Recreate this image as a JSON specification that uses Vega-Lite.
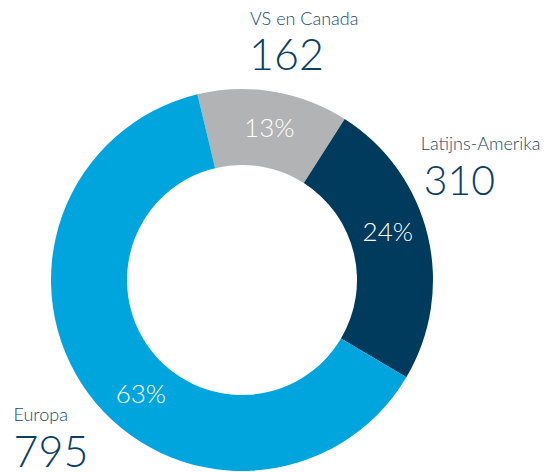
{
  "$schema": "https://vega.github.io/schema/vega-lite/v6.json",
  "width": 484,
  "height": 384,
  "autosize": {"type": "none"},
  "padding": {"left": 0, "top": 88, "right": 63, "bottom": 0},
  "background": "white",
  "config": {"view": {"stroke": null}},
  "data": {"values": [
    {"region": "VS en Canada", "value": 162, "pct": "13%"},
    {"region": "Latijns-Amerika", "value": 310, "pct": "24%"},
    {"region": "Europa", "value": 795, "pct": "63%"}
  ]},
  "encoding": {
    "theta": {"field": "value", "type": "quantitative", "stack": true, "scale": {"range": [-0.2356, 6.0476]}},
    "order": {"field": "value", "type": "quantitative", "sort": "ascending"},
    "detail": {"field": "region", "type": "nominal"}
  },
  "layer": [
    {
      "mark": {"type": "arc", "outerRadius": 191, "innerRadius": 115},
      "encoding": {
        "color": {"field": "region", "type": "nominal", "legend": null,
          "scale": {"domain": ["VS en Canada", "Latijns-Amerika", "Europa"], "range": ["#B1B3B4", "#003A5C", "#00A5DD"]}}
      }
    },
    {
      "mark": {"type": "text", "radius": 153, "dx": 2, "dy": 8, "align": "center", "baseline": "alphabetic", "fontSize": 26, "font": "Lato", "fontWeight": 300, "color": "white"},
      "encoding": {"text": {"condition": {"test": "datum.region === 'VS en Canada'", "field": "pct", "type": "nominal"}, "value": ""}}
    },
    {
      "mark": {"type": "text", "radius": 153, "dx": -3, "dy": -3, "align": "center", "baseline": "alphabetic", "fontSize": 26, "font": "Lato", "fontWeight": 300, "color": "white"},
      "encoding": {"text": {"condition": {"test": "datum.region === 'Latijns-Amerika'", "field": "pct", "type": "nominal"}, "value": ""}}
    },
    {
      "mark": {"type": "text", "radius": 153, "dx": 22, "dy": 32, "align": "center", "baseline": "alphabetic", "fontSize": 26, "font": "Lato", "fontWeight": 300, "color": "white"},
      "encoding": {"text": {"condition": {"test": "datum.region === 'Europa'", "field": "pct", "type": "nominal"}, "value": ""}}
    },
    {
      "mark": {"type": "text", "radius": 212, "dx": -27, "dy": -46, "align": "left", "baseline": "alphabetic", "fontSize": 18, "font": "Lato", "fontWeight": 300, "color": "#164A6E"},
      "encoding": {"text": {"condition": {"test": "datum.region === 'VS en Canada'", "field": "region", "type": "nominal"}, "value": ""}}
    },
    {
      "mark": {"type": "text", "radius": 212, "dx": -28, "dy": -1, "align": "left", "baseline": "alphabetic", "fontSize": 43, "font": "Lato", "fontWeight": 300, "color": "#0E3F63"},
      "encoding": {"text": {"condition": {"test": "datum.region === 'VS en Canada'", "field": "value", "type": "quantitative"}, "value": ""}}
    },
    {
      "mark": {"type": "text", "radius": 190, "dx": -6, "dy": -86, "align": "left", "baseline": "alphabetic", "fontSize": 18, "font": "Lato", "fontWeight": 300, "color": "#164A6E"},
      "encoding": {"text": {"condition": {"test": "datum.region === 'Latijns-Amerika'", "field": "region", "type": "nominal"}, "value": ""}}
    },
    {
      "mark": {"type": "text", "radius": 190, "dx": -3, "dy": -41, "align": "left", "baseline": "alphabetic", "fontSize": 41, "font": "Lato", "fontWeight": 300, "color": "#0E3F63"},
      "encoding": {"text": {"condition": {"test": "datum.region === 'Latijns-Amerika'", "field": "value", "type": "quantitative"}, "value": ""}}
    },
    {
      "mark": {"type": "text", "radius": 284, "dx": 0, "dy": -28, "align": "left", "baseline": "alphabetic", "fontSize": 18, "font": "Lato", "fontWeight": 300, "color": "#164A6E"},
      "encoding": {"text": {"condition": {"test": "datum.region === 'Europa'", "field": "region", "type": "nominal"}, "value": ""}}
    },
    {
      "mark": {"type": "text", "radius": 284, "dx": 0, "dy": 18, "align": "left", "baseline": "alphabetic", "fontSize": 43, "font": "Lato", "fontWeight": 300, "color": "#0E3F63"},
      "encoding": {"text": {"condition": {"test": "datum.region === 'Europa'", "field": "value", "type": "quantitative"}, "value": ""}}
    }
  ]
}
